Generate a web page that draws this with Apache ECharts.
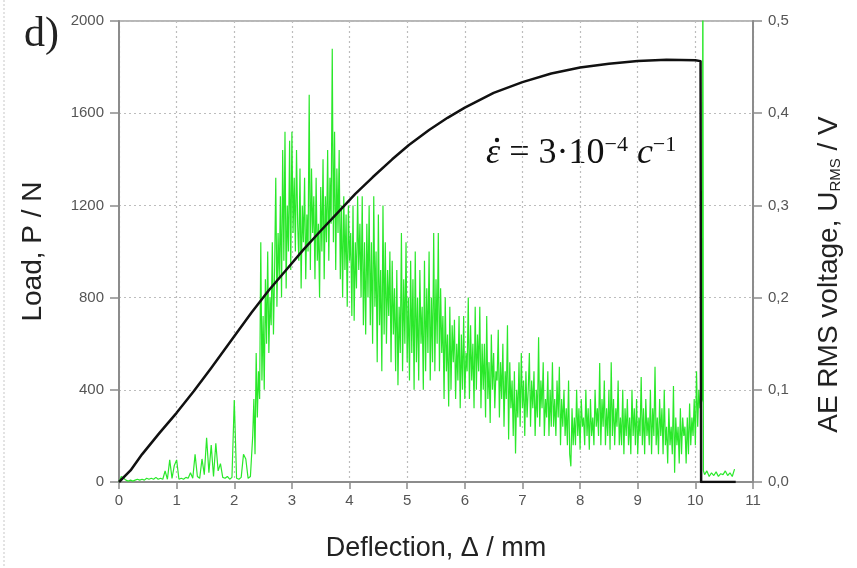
<!DOCTYPE html>
<html>
<head>
<meta charset="utf-8">
<script src="https://cdn.jsdelivr.net/npm/echarts@6/dist/echarts.min.js"></script>
<style>
html,body{margin:0;padding:0;background:#fff;}
#chart{width:857px;height:568px;}
</style>
</head>
<body>
<div id="chart"></div>
<script>
// ---- Data ----
// Load curve (left axis, N) vs deflection (mm)
const loadX = [0, 0.2, 0.4, 0.7, 1.0, 1.3, 1.6, 2.0, 2.3, 2.6, 2.9, 3.2, 3.5, 3.8, 4.1, 4.4, 4.74, 5.03, 5.38, 5.7, 6.0, 6.5, 7.0, 7.5, 8.0, 8.5, 9.0, 9.5, 10.0, 10.09, 10.1, 10.7];
const loadY = [0, 50, 120, 212, 300, 395, 495, 632, 735, 832, 920, 1008, 1090, 1170, 1250, 1322, 1400, 1462, 1527, 1580, 1624, 1688, 1735, 1772, 1798, 1815, 1826, 1832, 1830, 1826, 0, 0];

// AE RMS voltage (right axis, V)
// quiet stage, sampled every 0.04 mm from x = 0.00 to 2.28
const aeQuietStep = 0.04;
const aeQuietStart = 0.0;
const aeQuiet = [
  0.0, 0.006, 0.004, 0.002, 0.001, 0.002, 0.001, 0.002, 0.003, 0.002,
  0.003, 0.002, 0.004, 0.003, 0.004, 0.003, 0.005, 0.003, 0.004, 0.003,
  0.012, 0.003, 0.024, 0.004, 0.018, 0.024, 0.003, 0.004, 0.003, 0.005,
  0.004, 0.010, 0.004, 0.030, 0.006, 0.004, 0.025, 0.008, 0.048, 0.010,
  0.040, 0.006, 0.042, 0.012, 0.020, 0.005, 0.004, 0.006, 0.003, 0.005,
  0.089, 0.004, 0.003, 0.005, 0.030, 0.025, 0.004, 0.006
];
// active stage, sampled every 0.02 mm from x = 2.32 to 10.08
const aeActiveStep = 0.02;
const aeActiveStart = 2.32;
const aeActive = [
  0.05, 0.09, 0.03, 0.14, 0.07, 0.12, 0.09, 0.26, 0.11, 0.18, 0.10, 0.22, 0.15, 0.25, 0.14, 0.20, 0.17, 0.26, 0.16, 0.23,
  0.33, 0.19, 0.27, 0.22, 0.31, 0.20, 0.36, 0.24, 0.38, 0.21, 0.30, 0.25, 0.37, 0.23, 0.38, 0.27, 0.33, 0.25, 0.36, 0.28,
  0.24, 0.34, 0.21, 0.30, 0.26, 0.33, 0.22, 0.29, 0.25, 0.42, 0.23, 0.34, 0.27, 0.31, 0.22, 0.33, 0.24, 0.28, 0.20, 0.32,
  0.25, 0.35, 0.22, 0.31, 0.26, 0.36, 0.24, 0.33, 0.28, 0.47, 0.26, 0.38, 0.23, 0.34, 0.27, 0.36, 0.22, 0.30, 0.20, 0.31,
  0.23, 0.29, 0.19, 0.30, 0.24, 0.27, 0.18, 0.30, 0.175, 0.26, 0.21, 0.31, 0.23, 0.28, 0.20, 0.31, 0.17, 0.26, 0.16, 0.28,
  0.20, 0.30, 0.17, 0.26, 0.15, 0.31, 0.19, 0.25, 0.13, 0.29, 0.17, 0.23, 0.12, 0.30, 0.16, 0.26, 0.15, 0.23, 0.18, 0.25,
  0.13, 0.24, 0.16, 0.21, 0.12, 0.23, 0.105, 0.19, 0.14, 0.27, 0.12, 0.22, 0.15, 0.26, 0.13, 0.20, 0.11, 0.24, 0.14, 0.22,
  0.10, 0.25, 0.13, 0.20, 0.11, 0.23, 0.15, 0.19, 0.10, 0.24, 0.12, 0.21, 0.14, 0.25, 0.11, 0.20, 0.13, 0.27, 0.12, 0.22,
  0.15, 0.27, 0.12, 0.21, 0.14, 0.18, 0.09, 0.20, 0.12, 0.16, 0.082, 0.19, 0.10, 0.17, 0.13, 0.176, 0.09, 0.15, 0.11, 0.18,
  0.08, 0.16, 0.10, 0.18, 0.09, 0.14, 0.12, 0.20, 0.09, 0.17, 0.11, 0.15, 0.08, 0.19, 0.10, 0.16, 0.12, 0.19, 0.08, 0.15,
  0.10, 0.15, 0.07, 0.18, 0.09, 0.13, 0.064, 0.16, 0.10, 0.14, 0.08, 0.12, 0.11, 0.165, 0.07, 0.13, 0.09, 0.15, 0.06, 0.12,
  0.09, 0.17, 0.046, 0.13, 0.08, 0.11, 0.05, 0.12, 0.031, 0.10, 0.07, 0.13, 0.06, 0.14, 0.08, 0.11, 0.05, 0.12, 0.07, 0.10,
  0.14, 0.06, 0.11, 0.08, 0.12, 0.05, 0.10, 0.07, 0.157, 0.06, 0.11, 0.08, 0.13, 0.05, 0.09, 0.07, 0.12, 0.05, 0.10, 0.06,
  0.13, 0.06, 0.09, 0.05, 0.11, 0.07, 0.125, 0.04, 0.09, 0.06, 0.10, 0.05, 0.08, 0.04, 0.11, 0.03, 0.017, 0.08, 0.04, 0.07,
  0.04, 0.10, 0.05, 0.08, 0.035, 0.09, 0.06, 0.07, 0.04, 0.10, 0.05, 0.08, 0.035, 0.09, 0.05, 0.07, 0.04, 0.10, 0.06, 0.08,
  0.05, 0.129, 0.04, 0.09, 0.06, 0.11, 0.04, 0.08, 0.05, 0.10, 0.035, 0.13, 0.05, 0.09, 0.04, 0.08, 0.06, 0.11, 0.04, 0.07,
  0.04, 0.10, 0.03, 0.08, 0.05, 0.09, 0.04, 0.07, 0.03, 0.10, 0.05, 0.08, 0.04, 0.09, 0.03, 0.07, 0.05, 0.114, 0.04, 0.08,
  0.03, 0.09, 0.05, 0.07, 0.04, 0.10, 0.03, 0.08, 0.05, 0.125, 0.04, 0.07, 0.03, 0.09, 0.05, 0.08, 0.03, 0.10, 0.04, 0.06,
  0.02, 0.08, 0.04, 0.06, 0.03, 0.104, 0.01, 0.07, 0.04, 0.06, 0.02, 0.08, 0.03, 0.07, 0.05, 0.06, 0.02, 0.07, 0.03, 0.085,
  0.04, 0.07, 0.05, 0.09, 0.04, 0.12, 0.06, 0.10, 0.08
];
// fracture burst
const aeBurstX = [10.12, 10.13, 10.14];
const aeBurstY = [0.09, 0.62, 0.012];
// after fracture, sampled every 0.04 mm from x = 10.16 to 10.68
const aeTailStep = 0.04;
const aeTailStart = 10.16;
const aeTail = [0.008, 0.012, 0.006, 0.010, 0.007, 0.011, 0.006, 0.009, 0.008, 0.012, 0.007, 0.010, 0.006, 0.014];

const xTicks = [0, 11, 1];
const loadTicks = [0, 2000, 400];
const aeTicks = [0, 0.5, 0.1];

// ---- Build series ----
const loadData = loadX.map((x, i) => [x, loadY[i]]);
const aeData = [];
aeQuiet.forEach((v, i) => aeData.push([+(aeQuietStart + i * aeQuietStep).toFixed(3), v]));
aeActive.forEach((v, i) => aeData.push([+(aeActiveStart + i * aeActiveStep).toFixed(3), v]));
aeBurstX.forEach((x, i) => aeData.push([x, aeBurstY[i]]));
aeTail.forEach((v, i) => aeData.push([+(aeTailStart + i * aeTailStep).toFixed(3), v]));

const SANS = "'Liberation Sans', Arial, sans-serif";
const SERIF = "'Liberation Serif', 'Times New Roman', serif";
const axisGray = '#8c8c8c';
const labelColor = '#555';
const gridLine = { show: true, lineStyle: { type: [2, 3], color: '#bdbdbd', width: 1.2 } };

const chart = echarts.init(document.getElementById('chart'), null, { renderer: 'canvas' });
chart.setOption({
  animation: false,
  backgroundColor: '#fff',
  grid: { left: 119, right: 104, top: 21, bottom: 86, show: true, borderColor: '#a0a0a0', borderWidth: 1.5, backgroundColor: 'transparent' },
  xAxis: {
    type: 'value', min: xTicks[0], max: xTicks[1], interval: xTicks[2],
    name: 'Deflection, Δ / mm', nameLocation: 'middle', nameGap: 53,
    nameTextStyle: { fontSize: 27, color: '#222', fontFamily: SANS },
    axisLine: { show: true, onZero: false, lineStyle: { color: axisGray, width: 2 } },
    axisTick: { show: true, inside: false, length: 7, lineStyle: { color: axisGray, width: 1.5 } },
    axisLabel: { fontSize: 15, color: labelColor, fontFamily: SANS, margin: 11 },
    splitLine: gridLine
  },
  yAxis: [
    {
      type: 'value', min: loadTicks[0], max: loadTicks[1], interval: loadTicks[2], position: 'left',
      name: 'Load, P / N', nameLocation: 'middle', nameGap: 72, nameRotate: 90,
      nameTextStyle: { fontSize: 28, color: '#222', fontFamily: SANS },
      axisLine: { show: true, onZero: false, lineStyle: { color: axisGray, width: 2 } },
      axisTick: { show: true, inside: false, length: 9, lineStyle: { color: axisGray, width: 1.5 } },
      axisLabel: { fontSize: 15, color: labelColor, fontFamily: SANS, margin: 15, formatter: v => String(v) },
      splitLine: gridLine
    },
    {
      type: 'value', min: aeTicks[0], max: aeTicks[1], interval: aeTicks[2], position: 'right',
      name: 'AE RMS voltage, U{sub|RMS} / V', nameLocation: 'middle', nameGap: 62, nameRotate: 90,
      nameTextStyle: {
        fontSize: 28, color: '#222', fontFamily: SANS, padding: [0, 46, 0, 0],
        rich: { sub: { fontSize: 15, color: '#222', fontFamily: SANS, verticalAlign: 'bottom', padding: [12, 0, 0, 0] } }
      },
      axisLine: { show: true, onZero: false, lineStyle: { color: axisGray, width: 2 } },
      axisTick: { show: true, inside: false, length: 9, lineStyle: { color: axisGray, width: 1.5 } },
      axisLabel: { fontSize: 15, color: labelColor, fontFamily: SANS, margin: 15,
        formatter: v => v.toFixed(1).replace('.', ',') },
      splitLine: { show: false }
    }
  ],
  series: [
    {
      type: 'line', yAxisIndex: 1, data: aeData, showSymbol: false, symbol: 'none', clip: true,
      lineStyle: { color: '#2ae82a', width: 1.2 }, z: 2
    },
    {
      type: 'line', yAxisIndex: 0, data: loadData, showSymbol: false, symbol: 'none', clip: true,
      lineStyle: { color: '#111', width: 2.5, join: 'round' }, z: 3
    }
  ],
  graphic: [
    { type: 'line', shape: { x1: 4, y1: 0, x2: 4, y2: 568 }, style: { stroke: '#c8c8c8', lineWidth: 1, lineDash: [2, 2] }, silent: true },
    { type: 'text', left: 24, top: 14, style: { text: 'd)', font: "42px 'Liberation Serif', serif", fill: '#222' }, silent: true },
    {
      type: 'text', left: 486, top: 134, silent: true,
      style: {
        text: '{it|ε} = 3·10{sup|−4} {it|c}{sup|−1}',
        font: "36px 'Liberation Serif', serif", fill: '#111',
        rich: {
          it: { fontFamily: SERIF, fontSize: 36, fontStyle: 'italic', fill: '#111', lineHeight: 40 },
          sup: { fontFamily: SERIF, fontSize: 22, fill: '#111', verticalAlign: 'top', lineHeight: 40 }
        }
      }
    },
    { type: 'circle', shape: { cx: 497, cy: 140, r: 2.2 }, style: { fill: '#111' }, silent: true }
  ]
});
</script>
</body>
</html>
